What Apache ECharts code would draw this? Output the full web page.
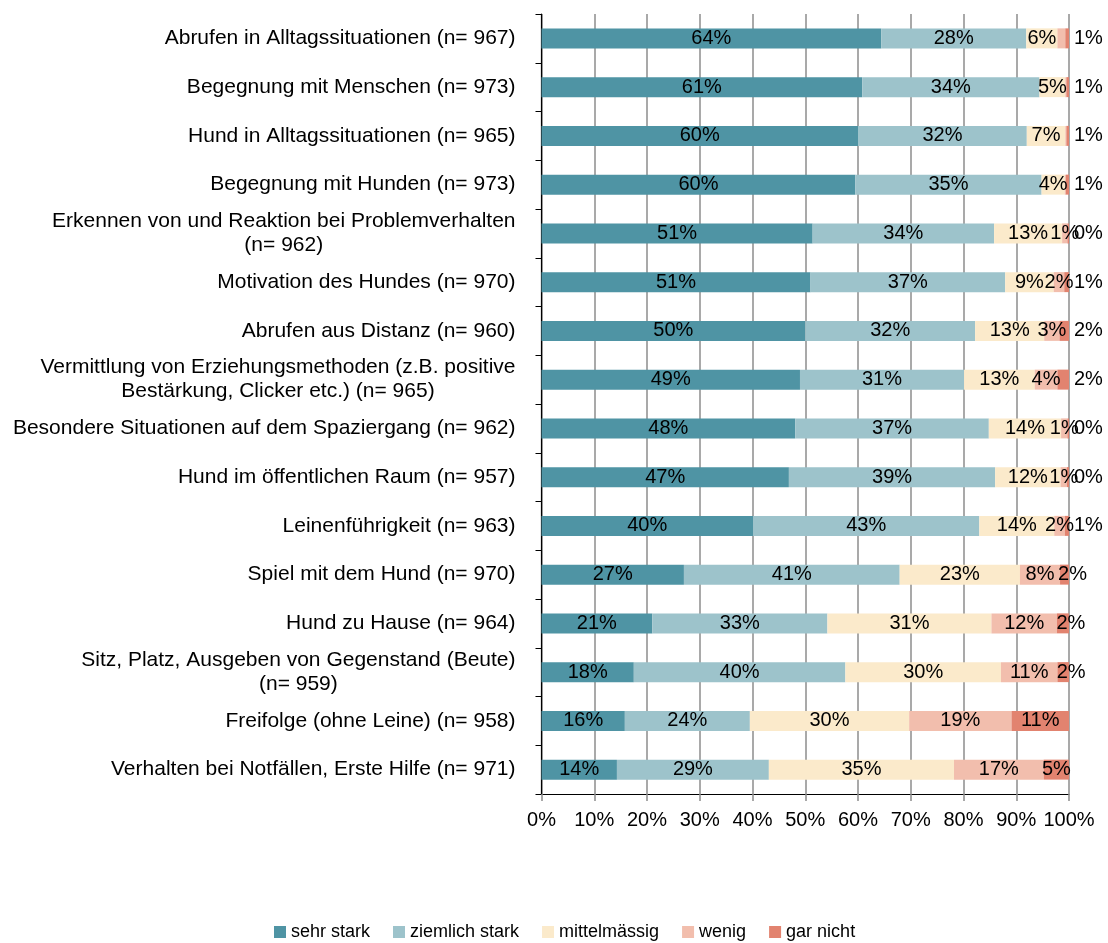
<!DOCTYPE html>
<html lang="de">
<head>
    <meta charset="UTF-8">
    <title>Hundeschule</title>
    <script src="https://cdn.jsdelivr.net/npm/echarts@6.0.0/dist/echarts.min.js"></script>
    <style>
        html, body { margin: 0; padding: 0; background: #fff; }
        #main { width: 1108px; height: 943px; }
    </style>
</head>
<body>
<div id="main"></div>
<script type="text/javascript">

    var categories = [
        'Abrufen in Alltagssituationen (n= 967)',
        'Begegnung mit Menschen (n= 973)',
        'Hund in Alltagssituationen (n= 965)',
        'Begegnung mit Hunden (n= 973)',
        'Erkennen von und Reaktion bei Problemverhalten\n(n= 962)',
        'Motivation des Hundes (n= 970)',
        'Abrufen aus Distanz (n= 960)',
        'Vermittlung von Erziehungsmethoden (z.B. positive\nBestärkung, Clicker etc.) (n= 965)',
        'Besondere Situationen auf dem Spaziergang (n= 962)',
        'Hund im öffentlichen Raum (n= 957)',
        'Leinenführigkeit (n= 963)',
        'Spiel mit dem Hund (n= 970)',
        'Hund zu Hause (n= 964)',
        'Sitz, Platz, Ausgeben von Gegenstand (Beute)\n(n= 959)',
        'Freifolge (ohne Leine) (n= 958)',
        'Verhalten bei Notfällen, Erste Hilfe (n= 971)'
    ];

    var sehrStark     = [64.4, 60.8, 60.0, 59.5, 51.4, 51.0, 50.0, 49.0, 48.1, 46.9, 40.1, 27.0, 21.0, 17.5, 15.8, 14.3];
    var ziemlichStark = [27.5, 33.6, 32.0, 35.3, 34.4, 36.9, 32.2, 31.1, 36.7, 39.1, 42.9, 40.9, 33.2, 40.1, 23.7, 28.8];
    var mittelmaessig = [ 5.9,  4.9,  7.3,  4.4, 12.9,  9.2, 13.1, 13.4, 13.7, 12.4, 14.2, 22.8, 31.1, 29.5, 30.2, 35.1];
    var wenig         = [ 1.5,  0.2,  0.2,  0.2,  1.0,  2.0,  2.9,  4.3,  1.2,  1.2,  2.0,  7.6, 12.4, 10.7, 19.4, 17.0];
    var garNicht      = [ 0.7,  0.5,  0.5,  0.6,  0.3,  0.9,  1.8,  2.2,  0.3,  0.4,  0.8,  1.7,  2.3,  2.2, 10.9,  4.8];

    var seriesNames = ['sehr stark', 'ziemlich stark', 'mittelmässig', 'wenig', 'gar nicht'];
    var colors = ['#4f94a4', '#9dc3cb', '#fbeacb', '#f2bead', '#e2836f'];

    var font = '"Liberation Sans", Arial, sans-serif';

    function pct(p) {
        return Math.round(p.value) + '%';
    }

    // wenig: Excel hat die Beschriftung in den ersten vier Zeilen weggelassen
    var wenigData = wenig.map(function (v, i) {
        return i < 4 ? { value: v, label: { show: false } } : v;
    });
    // gar nicht: kleine Werte stehen rechts neben dem Balken
    var garNichtData = garNicht.map(function (v, i) {
        if (i < 11) return { value: v, label: { position: 'right', distance: 5 } };
        if (i < 14) return { value: v, label: { position: 'inside', offset: [8, 0] } };
        return v;
    });

    var allData = [sehrStark, ziemlichStark, mittelmaessig, wenigData, garNichtData];

    var series = [];
    for (var s = 0; s < seriesNames.length; s++) {
        series.push({
            name: seriesNames[s],
            type: 'bar',
            stack: 'total',
            barWidth: 20,
            itemStyle: { color: colors[s] },
            label: {
                show: true,
                position: 'inside',
                formatter: pct,
                color: '#000',
                fontSize: 20,
                fontFamily: font
            },
            data: allData[s]
        });
    }

    var myChart = echarts.init(document.getElementById('main'));

    var option = {
        animation: false,
        backgroundColor: '#fff',
        grid: { left: 541.5, right: 39, top: 14, bottom: 149 },
        legend: {
            data: seriesNames,
            left: 274,
            top: 923,
            padding: 0,
            itemWidth: 12,
            itemHeight: 12,
            itemGap: 23,
            icon: 'rect',
            textStyle: { fontSize: 18, color: '#000', fontFamily: font }
        },
        xAxis: {
            type: 'value',
            min: 0,
            max: 100,
            interval: 10,
            axisLine: { show: true, lineStyle: { color: '#000', width: 1.2 } },
            axisTick: { show: true, length: 7, lineStyle: { color: '#8c8c8c', width: 1.5 } },
            splitLine: { show: true, lineStyle: { color: '#8c8c8c', width: 1.5 } },
            axisLabel: {
                formatter: '{value}%',
                margin: 16,
                fontSize: 20,
                color: '#000',
                fontFamily: font
            }
        },
        yAxis: {
            type: 'category',
            inverse: true,
            data: categories,
            axisLine: { show: true, lineStyle: { color: '#000', width: 1.2 } },
            axisTick: { show: true, length: 6, lineStyle: { color: '#000' } },
            axisLabel: {
                margin: 26,
                align: 'right',
                fontSize: 21,
                color: '#000',
                fontFamily: font,
                formatter: function (v) {
                    return v.split('\n').map(function (l) { return '{c|' + l + '}'; }).join('\n');
                },
                rich: {
                    c: { align: 'center', fontSize: 21, lineHeight: 24, color: '#000', fontFamily: font }
                }
            }
        },
        series: series
    };

    myChart.setOption(option);
</script>
</body>
</html>
